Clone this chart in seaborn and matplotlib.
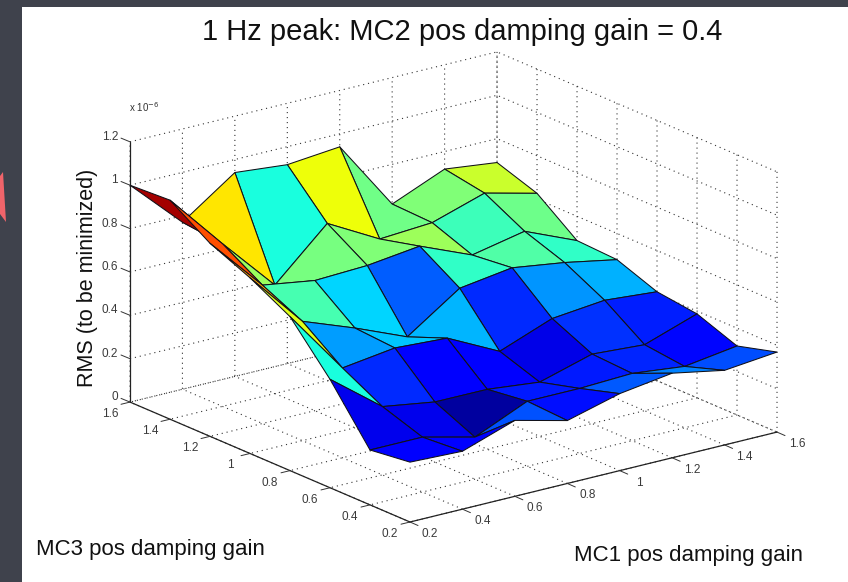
import numpy as np
import matplotlib
matplotlib.use("Agg")
import matplotlib.pyplot as plt
from matplotlib.lines import Line2D
from matplotlib.patches import Rectangle, Polygon
from mpl_toolkits.mplot3d import proj3d
import seaborn as sns

# ---- data ----
mc1_gain = [0.2, 0.4, 0.6, 0.8, 1.0, 1.2, 1.4, 1.6]
mc3_gain = [0.2, 0.4, 0.6, 0.8, 1.0, 1.2, 1.4, 1.6]
# RMS x 1e-6, one list per MC3 gain, values along MC1 gain
rms_mc3_02 = [0.276, 0.267, 0.350, 0.290, 0.355, 0.390, 0.344, 0.369]
rms_mc3_04 = [0.253, 0.253, 0.194, 0.300, 0.300, 0.310, 0.283, 0.318]
rms_mc3_06 = [0.500, 0.315, 0.277, 0.276, 0.250, 0.320, 0.304, 0.387]
rms_mc3_08 = [0.710, 0.414, 0.447, 0.433, 0.313, 0.405, 0.430, 0.410]
rms_mc3_10 = [0.810, 0.550, 0.460, 0.360, 0.525, 0.560, 0.525, 0.479]
rms_mc3_12 = [0.890, 0.638, 0.600, 0.610, 0.640, 0.540, 0.590, 0.488]
rms_mc3_14 = [1.010, 0.750, 0.500, 0.725, 0.594, 0.610, 0.687, 0.627]
rms_mc3_16 = [1.000, 0.770, 0.940, 0.917, 0.940, 0.617, 0.719, 0.690]
tick_xy = [0.2, 0.4, 0.6, 0.8, 1.0, 1.2, 1.4, 1.6]
tick_z = [0, 0.2, 0.4, 0.6, 0.8, 1.0, 1.2]
tick_z_labels = ["0", "0.2", "0.4", "0.6", "0.8", "1", "1.2"]
tick_xy_labels = ["0.2", "0.4", "0.6", "0.8", "1", "1.2", "1.4", "1.6"]

sns.set_style("white")
plt.rcParams["font.family"] = ["Liberation Sans", "DejaVu Sans"]

W, H = 848, 582
BG = "#3f424c"
TICK_C = "#3a3a3a"
fig = plt.figure(figsize=(W / 100, H / 100), dpi=100, facecolor=BG)


def fx(x):
    return x / W


def fy(y):
    return 1 - y / H


fig.add_artist(Rectangle((fx(22), 0), (W - 22) / W, (H - 7) / H,
                         transform=fig.transFigure, facecolor="white", edgecolor="none", zorder=-5))
fig.add_artist(Polygon([[fx(0), fy(176)], [fx(3), fy(172)], [fx(6), fy(222)], [fx(0), fy(214)]],
                       transform=fig.transFigure, facecolor="#f0646a", edgecolor="none", zorder=-5))

ax = fig.add_axes([0.1, 0.1, 0.8, 0.8 * W / H], projection="3d", proj_type="ortho", facecolor="none")
ax.view_init(elev=18.9, azim=-127.1)
ax.set_box_aspect((460, 464, 275))

X, Y = np.meshgrid(mc1_gain, mc3_gain)
Z = np.array([rms_mc3_02, rms_mc3_04, rms_mc3_06, rms_mc3_08,
              rms_mc3_10, rms_mc3_12, rms_mc3_14, rms_mc3_16])
cmap = matplotlib.colormaps["jet"]
colors = cmap((Z - 0.17) / (1.04 - 0.17))
ax.plot_surface(X, Y, Z, rstride=1, cstride=1, facecolors=colors, shade=False,
                edgecolor="#101018", linewidth=0.75, antialiased=True)

ax.set_xlim(0.2, 1.6)
ax.set_ylim(0.2, 1.6)
ax.set_zlim(0, 1.2)
ax.set_xticks(tick_xy, [""] * len(tick_xy))
ax.set_yticks(tick_xy, [""] * len(tick_xy))
ax.set_zticks(tick_z, [""] * len(tick_z))
for axis in (ax.xaxis, ax.yaxis, ax.zaxis):
    axis.set_pane_color((1, 1, 1, 0))
    axis.pane.set_edgecolor((0, 0, 0, 0))
    axis.line.set_color("#222222")
    axis.line.set_linewidth(0.9)
    axis._axinfo["grid"].update(color="#333333", linewidth=0.8, linestyle=(0, (1, 3.5)))
    axis._axinfo["tick"].update(inward_factor=0.0, outward_factor=0.0)

# place the square axes so that the box corners land on the reference frame
front_t, left_t = np.array([410.0, 522.0]), np.array([130.0, 402.0])
right_t = np.array([777.0, 432.0])


def corner(x, y, z):
    fig.canvas.draw()
    px, py, _ = proj3d.proj_transform(x, y, z, ax.get_proj())
    d = ax.transData.transform((px, py))
    return np.array([d[0], H - d[1]])


for _ in range(3):
    r = corner(1.6, 0.2, 0)
    k = np.linalg.norm(right_t - left_t) / np.linalg.norm(corner(0.2, 1.6, 0) - r)
    p = ax.get_position(original=True)
    ax.set_position([p.x0, p.y0, p.width * k, p.height * k])
    f = corner(0.2, 0.2, 0)
    p = ax.get_position(original=True)
    ax.set_position([p.x0 + (front_t[0] - f[0]) / W, p.y0 - (front_t[1] - f[1]) / H, p.width, p.height])


def tick(pos, d, label, off, ha):
    fig.add_artist(Line2D([fx(pos[0]), fx(pos[0] + d[0])], [fy(pos[1]), fy(pos[1] + d[1])],
                          transform=fig.transFigure, color="#333333", linewidth=0.7))
    fig.text(fx(pos[0] + off[0]), fy(pos[1] + off[1]), label, fontsize=8.5, color=TICK_C, ha=ha, va="center")


for v, s in zip(tick_xy, tick_xy_labels):
    tick(corner(v, 0.2, 0), (8, 3.5), s, (20, 12), "center")
    tick(corner(0.2, v, 0), (-9, 2.2), s, (-20, 12), "center")
for v, s in zip(tick_z, tick_z_labels):
    tick(corner(0.2, 1.6, v), (-9, -3.7), s, (-12, -5), "right")

fig.text(fx(462), fy(32), "1 Hz peak: MC2 pos damping gain = 0.4", fontsize=21, ha="center", va="center", color="#111111")
fig.text(fx(87), fy(278), "RMS (to be minimized)", fontsize=15.5, rotation=90, ha="center", va="center", color="#111111")
fig.text(fx(36), fy(549), "MC3 pos damping gain", fontsize=16, ha="left", va="center", color="#111111")
fig.text(fx(574), fy(555), "MC1 pos damping gain", fontsize=16, ha="left", va="center", color="#111111")
fig.text(fx(129), fy(107), "x 10$^{-6}$", fontsize=7, ha="left", va="center", color="#333333")

fig.savefig("out.png", dpi=100, facecolor=BG)
